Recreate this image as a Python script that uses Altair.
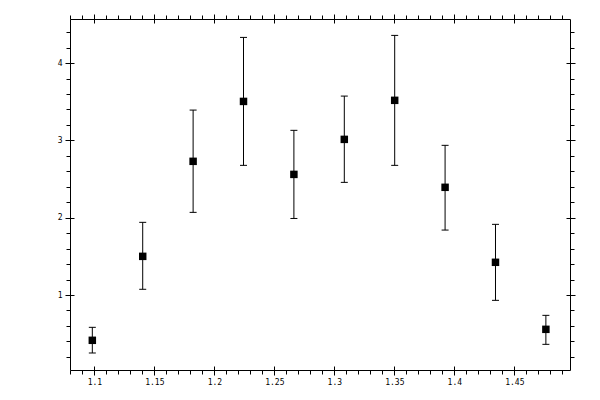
import altair as alt
import pandas as pd

# data
x_vals = [1.0983, 1.1403, 1.1823, 1.2243, 1.2663, 1.3083, 1.3503, 1.3923, 1.4343, 1.4763]
y_vals = [0.414, 1.50, 2.729, 3.504, 2.56, 3.013, 3.518, 2.393, 1.423, 0.556]
y_lo = [0.25, 1.074, 2.069, 2.677, 1.99, 2.457, 2.677, 1.84, 0.931, 0.362]
y_hi = [0.582, 1.94, 3.392, 4.332, 3.13, 3.573, 4.358, 2.936, 1.914, 0.737]

x_major = [1.1, 1.15, 1.2, 1.25, 1.3, 1.35, 1.4, 1.45]
x_minor = [round(1.08 + 0.01 * i, 2) for i in range(42)]
y_major = [1, 2, 3, 4]
y_minor = [round(0.2 * i, 1) for i in range(1, 23)]

X_DOMAIN = [1.0797, 1.4964]
Y_DOMAIN = [0.03, 4.57]

df = pd.DataFrame({"x": x_vals, "y": y_vals, "lo": y_lo, "hi": y_hi})

FONT = "DejaVu Sans Mono"

xs = alt.Scale(domain=X_DOMAIN, nice=False, zero=False)
ys = alt.Scale(domain=Y_DOMAIN, nice=False, zero=False)


def minor_axis(orient, values):
    return alt.Axis(orient=orient, values=values, tickSize=4, tickWidth=1, tickColor="black",
                    domain=True, domainColor="black", domainWidth=1, labels=False,
                    grid=False, title=None)


def major_axis(orient, values, labels):
    kw = dict(orient=orient, values=values, tickSize=9, tickWidth=1, tickColor="black",
              domain=False, grid=False, title=None, offset=-4, labels=labels)
    if labels:
        kw.update(labelFont=FONT, labelFontSize=8, labelColor="black", labelPadding=3,
                  format="~g")
    return alt.Axis(**kw)


base = alt.Chart(df)

squares = base.mark_square(size=56, color="black", opacity=1).encode(
    x=alt.X("x:Q", scale=xs, axis=minor_axis("bottom", x_minor)),
    y=alt.Y("y:Q", scale=ys, axis=minor_axis("left", y_minor)),
)

rules = base.mark_rule(color="black", strokeWidth=1).encode(
    x=alt.X("x:Q", scale=xs, axis=minor_axis("top", x_minor)),
    y=alt.Y("lo:Q", scale=ys, axis=minor_axis("right", y_minor)),
    y2="hi:Q",
)

cap_lo = base.mark_tick(color="black", size=7, thickness=1, orient="horizontal", opacity=1).encode(
    x=alt.X("x:Q", scale=xs, axis=major_axis("bottom", x_major, True)),
    y=alt.Y("lo:Q", scale=ys, axis=major_axis("left", y_major, True)),
)

cap_hi = base.mark_tick(color="black", size=7, thickness=1, orient="horizontal", opacity=1).encode(
    x=alt.X("x:Q", scale=xs, axis=major_axis("top", x_major, False)),
    y=alt.Y("hi:Q", scale=ys, axis=major_axis("right", y_major, False)),
)

chart = (
    alt.layer(squares, rules, cap_lo, cap_hi)
    .resolve_axis(x="independent", y="independent")
    .properties(
        width=500,
        height=351,
        autosize=alt.AutoSizeParams(type="none"),
        padding={"left": 62, "top": 11, "right": 22, "bottom": 22},
        background="white",
    )
    .configure_view(stroke=None)
)

chart.save("out.html", embed_options={"renderer": "svg", "actions": False})
